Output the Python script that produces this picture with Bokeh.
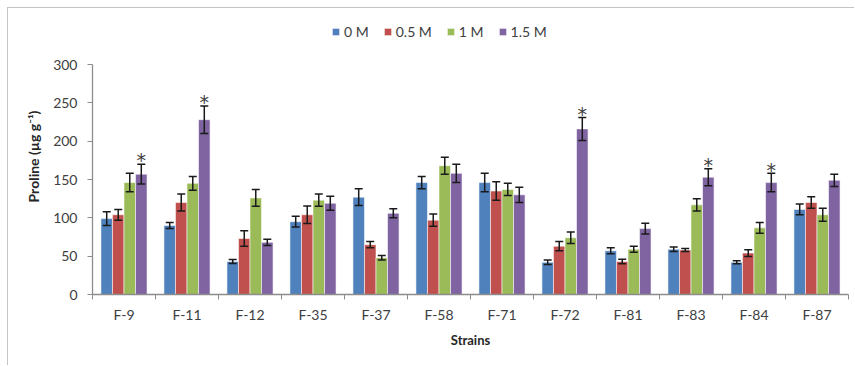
import numpy as np
from bokeh.plotting import figure
from bokeh.layouts import row, column
from bokeh.models import (ColumnDataSource, Range1d, FixedTicker, Whisker, TeeHead,
                          Legend, LegendItem, Spacer)
from bokeh.core.properties import value
from bokeh.embed import file_html
from bokeh.resources import INLINE

strains = ["F-9", "F-11", "F-12", "F-35", "F-37", "F-58", "F-71", "F-72", "F-81", "F-83", "F-84", "F-87"]
series = ["0 M", "0.5 M", "1 M", "1.5 M"]
m0 = [99, 90, 43, 95, 127, 146, 146, 42, 57, 59, 42, 111]
m05 = [104, 120, 73, 104, 65, 97, 135, 63, 43, 58, 54, 120]
m1 = [146, 145, 126, 123, 48, 168, 137, 74, 59, 117, 87, 104]
m15 = [157, 228, 68, 119, 106, 158, 130, 216, 86, 153, 146, 149]
e0 = [9, 4, 2.5, 7, 11, 8, 12, 3, 4, 3, 2, 7]
e05 = [7, 11, 10, 11.5, 4, 8, 12, 6, 3, 2, 4.5, 7.5]
e1 = [12, 9, 11, 8, 3, 11, 8, 7.5, 4, 8, 7, 8.5]
e15 = [13, 18, 4, 9, 6, 12, 10, 15, 7, 11, 12, 8]
significant = ["F-9", "F-11", "F-72", "F-83", "F-84"]
y_ticks = [0, 50, 100, 150, 200, 250, 300]

colors = ["#4F81BD", "#C0504D", "#9BBB59", "#8064A2"]
values = [m0, m05, m1, m15]
errors = [e0, e05, e1, e15]
bar_w = 0.183
offsets = [-1.5 * bar_w, -0.5 * bar_w, 0.5 * bar_w, 1.5 * bar_w]

FONT = "Lato"
TXT = "#404040"
AX = "#8c8c8c"

centers = [i + 0.5 for i in range(len(strains))]
bounds = [float(i) for i in range(len(strains) + 1)]

# frame extends above 300 to host the legend; axis line is bounded to 0..300
p = figure(width=847, height=358, output_backend="svg", toolbar_location=None,
           x_range=Range1d(0, len(strains)), y_range=Range1d(0, 360),
           min_border_left=84, min_border_right=7, min_border_top=10, min_border_bottom=72)
p.styles = {"border-left": "1px solid #c4c4c4", "border-top": "1px solid #c4c4c4"}
p.outline_line_color = None
p.xgrid.grid_line_color = None
p.ygrid.grid_line_color = None

items = []
for k in range(4):
    xs = [c + offsets[k] for c in centers]
    vals = values[k]
    errs = errors[k]
    src = ColumnDataSource(dict(x=xs, top=vals,
                                upper=[v + e for v, e in zip(vals, errs)],
                                lower=[v - e for v, e in zip(vals, errs)]))
    r = p.vbar(x="x", top="top", bottom=0, width=bar_w, source=src,
               fill_color=colors[k], line_color="#ffffff", line_alpha=0.55, line_width=1)
    items.append(LegendItem(label=series[k], renderers=[r]))
    w = Whisker(base="x", upper="upper", lower="lower", source=src, dimension="height",
                line_color="#1a1a1a", line_width=1.5, level="overlay",
                upper_head=TeeHead(size=8, line_color="#1a1a1a", line_width=1.5),
                lower_head=TeeHead(size=8, line_color="#1a1a1a", line_width=1.5))
    p.add_layout(w)

# significance stars on the 1.5 M bars
sx, sy = [], []
for name in significant:
    i = strains.index(name)
    sx.append(centers[i] + offsets[3])
    sy.append(m15[i] + e15[i] + 5)
p.text(x=sx, y=sy, text=["*"] * len(sx), text_align="center", text_baseline="alphabetic",
       text_font=value("DejaVu Sans"), text_font_size="19px", text_color="#404040")

legend = Legend(items=items, orientation="horizontal", location=(239, 254),
                glyph_width=9, glyph_height=9, label_standoff=4, spacing=14,
                padding=0, margin=0, border_line_color=None, background_fill_alpha=0,
                label_text_font=FONT, label_text_font_size="14px", label_text_color=TXT,
                label_height=16)
p.add_layout(legend, "center")

xa = p.xaxis[0]
xa.ticker = FixedTicker(ticks=centers, minor_ticks=bounds)
xa.major_label_overrides = {c: s for c, s in zip(centers, strains)}
xa.major_tick_line_color = None
xa.minor_tick_line_color = AX
xa.minor_tick_in = 0
xa.minor_tick_out = 5
xa.axis_line_color = AX
xa.axis_line_width = 1.3
xa.major_label_text_font = FONT
xa.major_label_text_font_size = "14px"
xa.major_label_text_color = TXT
xa.major_label_standoff = 5
xa.axis_label = "Strains"
xa.axis_label_text_font = FONT
xa.axis_label_text_font_size = "13px"
xa.axis_label_text_font_style = "bold"
xa.axis_label_text_color = "#262626"
xa.axis_label_standoff = 6

ya = p.yaxis[0]
ya.bounds = (0, 300)
ya.ticker = FixedTicker(ticks=y_ticks)
ya.minor_tick_line_color = None
ya.major_tick_in = 0
ya.major_tick_out = 5
ya.major_tick_line_color = AX
ya.axis_line_color = AX
ya.axis_line_width = 1.3
ya.major_label_text_font = FONT
ya.major_label_text_font_size = "14px"
ya.major_label_text_color = TXT
ya.major_label_standoff = 10
ya.axis_label = "Proline (µg g⁻¹)"
ya.axis_label_text_font = FONT
ya.axis_label_text_font_size = "14px"
ya.axis_label_text_font_style = "bold"
ya.axis_label_text_color = "#262626"
ya.axis_label_standoff = 8

layout = column(Spacer(height=7), row(Spacer(width=7), p))
open("out.html", "w").write(file_html(layout, INLINE))
